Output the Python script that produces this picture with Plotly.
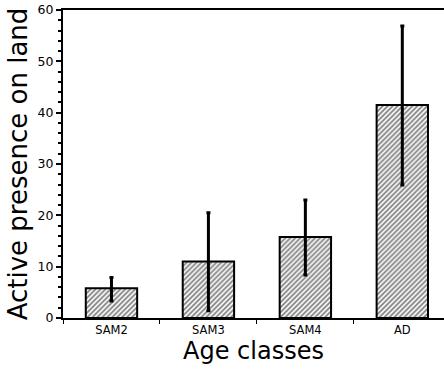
import plotly.graph_objects as go

categories = ["SAM2", "SAM3", "SAM4", "AD"]
means = [5.8, 11.0, 15.8, 41.5]
err_plus = [2.1, 9.5, 7.2, 15.4]
err_minus = [2.5, 9.6, 7.4, 15.6]
y_ticks = [0, 10, 20, 30, 40, 50, 60]

FONT = "DejaVu Sans"

fig = go.Figure()
fig.add_trace(go.Bar(
    x=categories, y=means, width=0.53,
    marker=dict(color="white", line=dict(color="black", width=2),
                pattern=dict(shape="/", fgcolor="black", bgcolor="white",
                             size=3.5, solidity=0.5)),
    error_y=dict(type="data", symmetric=False, array=err_plus, arrayminus=err_minus,
                 color="black", thickness=3, width=2),
))

fig.update_layout(
    width=444, height=372,
    margin=dict(l=63, r=0, t=10, b=54),
    paper_bgcolor="white", plot_bgcolor="white",
    showlegend=False, bargap=0.47,
    font=dict(family=FONT, color="black"),
)
fig.update_xaxes(
    range=[-0.5, 3.43], showline=True, linecolor="black", linewidth=1.5,
    mirror=True, ticks="outside", tickson="boundaries", ticklen=4,
    tickcolor="black", tickfont=dict(size=11.5, family=FONT),
    title=dict(text="Age classes", font=dict(size=24, family=FONT), standoff=2),
    showgrid=False, zeroline=False,
)
fig.update_yaxes(
    range=[0, 60], tickvals=y_ticks, showline=True, linecolor="black", linewidth=2,
    ticks="outside", ticklen=5, tickcolor="black", tickwidth=1.5,
    minor=dict(dtick=2, ticks="outside", ticklen=3, tickcolor="black"),
    tickfont=dict(size=12.5, family=FONT),
    title=dict(text="Active presence on land", font=dict(size=26, family=FONT), standoff=2),
    showgrid=False, zeroline=False, automargin=False,
)

fig.write_html("out.html", config={"displayModeBar": False},
               post_script="document.body.style.margin='0';")
